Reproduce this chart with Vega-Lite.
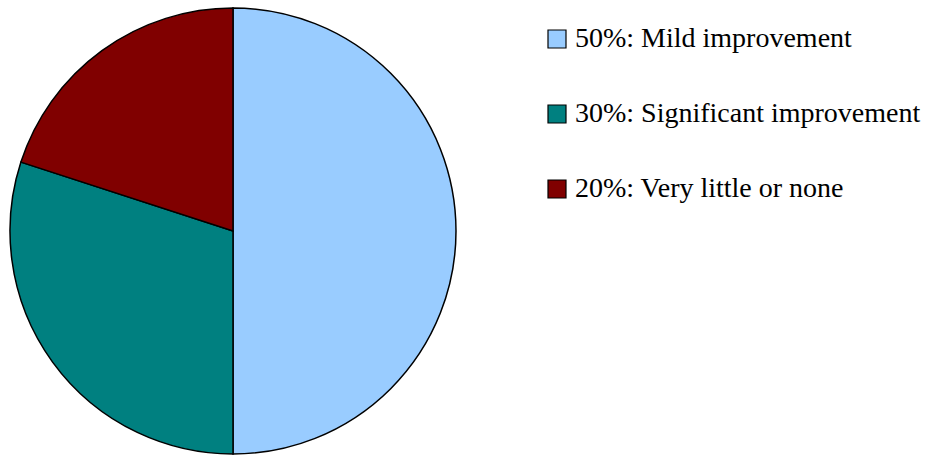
{
  "$schema": "https://vega.github.io/schema/vega-lite/v6.json",
  "autosize": {"type": "none"},
  "padding": {"left": 0, "top": 4, "right": 463, "bottom": 0},
  "width": 466,
  "height": 454,
  "background": "white",
  "data": {"values": [
    {"label": "50%: Mild improvement", "value": 50, "order": 1},
    {"label": "30%: Significant improvement", "value": 30, "order": 2},
    {"label": "20%: Very little or none", "value": 20, "order": 3}
  ]},
  "mark": {"type": "arc", "outerRadius": 223, "stroke": "black", "strokeWidth": 1.5},
  "encoding": {
    "theta": {"field": "value", "type": "quantitative", "stack": true},
    "order": {"field": "order", "type": "quantitative"},
    "color": {
      "field": "label",
      "type": "nominal",
      "scale": {
        "domain": ["50%: Mild improvement", "30%: Significant improvement", "20%: Very little or none"],
        "range": ["#99CCFF", "#008080", "#800000"]
      },
      "legend": {
        "orient": "none",
        "legendX": 543,
        "legendY": 21,
        "title": null,
        "symbolType": "square",
        "symbolSize": 324,
        "symbolStrokeColor": "black",
        "symbolStrokeWidth": 1.2,
        "symbolOpacity": 1,
        "labelFont": "Liberation Serif",
        "labelFontSize": 28,
        "labelColor": "black",
        "labelOffset": 4,
        "labelLimit": 0,
        "rowPadding": 47
      }
    }
  },
  "config": {"view": {"stroke": null}}
}
